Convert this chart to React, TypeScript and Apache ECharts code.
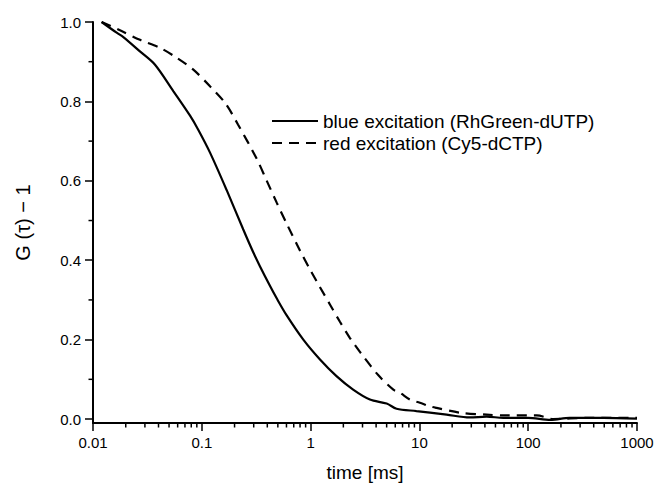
import React, { useEffect, useRef } from "react";
import * as echarts from "echarts";

// Blue excitation (RhGreen-dUTP) — solid
const blueX = [0.012, 0.0165, 0.019, 0.027, 0.037, 0.0547, 0.078, 0.093, 0.119, 0.169, 0.24, 0.297, 0.342, 0.424, 0.488, 0.603, 0.857, 1.22, 1.73, 2.46, 3.51, 5.0, 6.17, 9.4, 12.5, 17.8, 29, 41.5, 59, 100, 160, 240, 490, 1000];
const blueY = [1.0, 0.973, 0.962, 0.926, 0.893, 0.826, 0.764, 0.728, 0.671, 0.577, 0.478, 0.42, 0.385, 0.335, 0.304, 0.261, 0.2, 0.15, 0.108, 0.074, 0.049, 0.039, 0.026, 0.02, 0.016, 0.011, 0.004, 0.006, 0.003, 0.003, -0.002, 0.003, 0.003, 0.001];

// Red excitation (Cy5-dCTP) — dashed
const redX = [0.012, 0.0171, 0.027, 0.0413, 0.0587, 0.0836, 0.119, 0.165, 0.215, 0.319, 0.394, 0.488, 0.603, 0.8, 0.986, 1.22, 1.51, 1.86, 2.3, 2.84, 3.05, 4.2, 5.76, 6.64, 8.2, 10.1, 12.5, 14.4, 23.6, 41.5, 63, 120, 170, 345, 1000];
const redY = [1.0, 0.981, 0.955, 0.935, 0.91, 0.88, 0.838, 0.795, 0.742, 0.656, 0.601, 0.545, 0.492, 0.424, 0.377, 0.332, 0.288, 0.245, 0.204, 0.169, 0.158, 0.11, 0.074, 0.066, 0.049, 0.041, 0.032, 0.028, 0.016, 0.011, 0.009, 0.009, 0.0, 0.003, 0.003];

const seriesNames = ["blue excitation (RhGreen-dUTP)", "red excitation (Cy5-dCTP)"];

const X_MIN = 0.01;
const X_MAX = 1000;
const Y_MIN = -0.01;
const Y_MAX = 1.0;

const yMajorTicks = [0, 0.2, 0.4, 0.6, 0.8, 1.0];
const yMinorTicks = [0.1, 0.3, 0.5, 0.7, 0.9];
const xDecades = [0.01, 0.1, 1, 10, 100];
const xMinorMultipliers = [2, 3, 4, 5, 6, 7, 8, 9];

const FONT = "'Liberation Sans', Arial, Helvetica, sans-serif";

export default function App() {
  const ref = useRef<HTMLDivElement>(null);

  useEffect(() => {
    document.body.style.margin = "0";
    if (!ref.current) return;
    const chart = echarts.init(ref.current, null, { renderer: "svg" });

    const xMinor: number[][] = [];
    xDecades.forEach((d) => xMinorMultipliers.forEach((m) => xMinor.push([+(d * m).toPrecision(3), Y_MIN])));
    const yMinor = yMinorTicks.map((v) => [X_MIN, v]);

    const option: any = {
      animation: false,
      backgroundColor: "#fff",
      textStyle: { fontFamily: FONT },
      grid: { left: 93, right: 19, top: 22, bottom: 60, containLabel: false, outerBoundsMode: "none" },
      legend: {
        orient: "vertical",
        left: 266,
        top: 105,
        padding: 5,
        itemWidth: 46,
        itemHeight: 14,
        itemGap: 0,
        itemStyle: { opacity: 0 },
        data: seriesNames,
        textStyle: { fontSize: 19, lineHeight: 22, color: "#000", fontFamily: FONT },
      },
      xAxis: {
        type: "log",
        logBase: 10,
        min: X_MIN,
        max: X_MAX,
        name: "time [ms]",
        nameLocation: "middle",
        nameGap: 40,
        nameTextStyle: { fontSize: 19, color: "#000", fontFamily: FONT },
        axisLine: { show: true, onZero: false, lineStyle: { color: "#000", width: 2 } },
        axisTick: { show: true, inside: false, length: 8, lineStyle: { color: "#000", width: 1.5 } },
        axisLabel: {
          margin: 12,
          fontSize: 15,
          color: "#000",
          fontFamily: FONT,
          formatter: (v: number) => String(+Number(v).toPrecision(3)),
        },
        splitLine: { show: false },
        minorTick: { show: false },
      },
      yAxis: {
        type: "value",
        min: Y_MIN,
        max: Y_MAX,
        name: "G (τ) − 1",
        nameLocation: "middle",
        nameRotate: 90,
        nameGap: 60,
        nameTextStyle: { fontSize: 20, color: "#000", fontFamily: FONT },
        axisLine: { show: true, onZero: false, lineStyle: { color: "#000", width: 2 } },
        axisTick: { show: true, inside: false, length: 8, customValues: yMajorTicks, lineStyle: { color: "#000", width: 1.5 } },
        axisLabel: {
          margin: 12,
          fontSize: 15,
          color: "#000",
          fontFamily: FONT,
          customValues: yMajorTicks,
          formatter: (v: number) => Number(v).toFixed(1),
        },
        splitLine: { show: false },
      },
      series: [
        {
          name: seriesNames[0],
          type: "line",
          data: blueX.map((x, i) => [x, blueY[i]]),
          showSymbol: false,
          symbol: "none",
          smooth: 0.3,
          lineStyle: { color: "#000", width: 2.2, type: "solid" },
          itemStyle: { color: "#000" },
        },
        {
          name: seriesNames[1],
          type: "line",
          data: redX.map((x, i) => [x, redY[i]]),
          showSymbol: false,
          symbol: "none",
          smooth: 0.3,
          lineStyle: { color: "#000", width: 2.2, type: [10, 7] },
          itemStyle: { color: "#000" },
        },
        {
          type: "custom",
          name: "xMinorTicks",
          silent: true,
          clip: false,
          data: xMinor,
          renderItem: (_p: any, api: any) => {
            const pt = api.coord([api.value(0), api.value(1)]);
            return {
              type: "line",
              shape: { x1: pt[0], y1: pt[1], x2: pt[0], y2: pt[1] + 4.5 },
              style: { stroke: "#000", lineWidth: 1.5 },
            };
          },
        },
        {
          type: "custom",
          name: "yMinorTicks",
          silent: true,
          clip: false,
          data: yMinor,
          renderItem: (_p: any, api: any) => {
            const pt = api.coord([api.value(0), api.value(1)]);
            return {
              type: "line",
              shape: { x1: pt[0], y1: pt[1], x2: pt[0] - 4.5, y2: pt[1] },
              style: { stroke: "#000", lineWidth: 1.5 },
            };
          },
        },
      ],
    };

    chart.setOption(option);
    return () => chart.dispose();
  }, []);

  return <div ref={ref} style={{ width: 656, height: 483, position: "absolute", left: 0, top: 0 }} />;
}
